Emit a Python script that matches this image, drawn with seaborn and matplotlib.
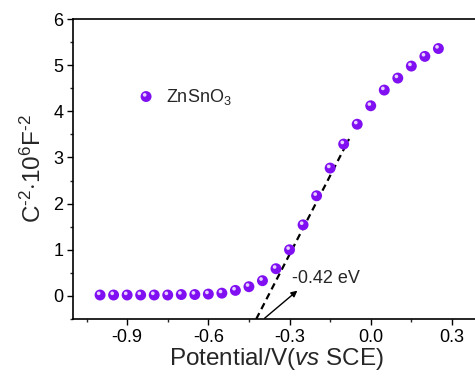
import numpy as np
import pandas as pd
import matplotlib
matplotlib.use("Agg")
import matplotlib.pyplot as plt
import matplotlib.transforms as mtransforms
import seaborn as sns

# ---- data ----
potential = [-1.00, -0.95, -0.90, -0.85, -0.80, -0.75, -0.70, -0.65, -0.60, -0.55,
             -0.50, -0.45, -0.40, -0.35, -0.30, -0.25, -0.20, -0.15, -0.10, -0.05,
             0.00, 0.05, 0.10, 0.15, 0.20, 0.25]
c_inv2 = [0.02, 0.02, 0.02, 0.02, 0.02, 0.02, 0.03, 0.03, 0.04, 0.06,
          0.12, 0.20, 0.33, 0.59, 1.00, 1.54, 2.17, 2.77, 3.29, 3.72,
          4.12, 4.46, 4.72, 4.98, 5.19, 5.36]
fit_x = [-0.423, -0.080]
fit_y = [-0.5, 3.4]
series_name = "ZnSnO$_3$"
annot_text = "-0.42 eV"
xticks = [-0.9, -0.6, -0.3, 0.0, 0.3]
yticks = [0, 1, 2, 3, 4, 5, 6]

df = pd.DataFrame({"x": potential, "y": c_inv2, "s": series_name})
fit_df = pd.DataFrame({"x": fit_x, "y": fit_y})

sns.set_style("ticks")
plt.rcParams["font.family"] = ["Liberation Sans", "DejaVu Sans"]
plt.rcParams["mathtext.fontset"] = "custom"
plt.rcParams["mathtext.rm"] = "Liberation Sans"
plt.rcParams["mathtext.it"] = "Liberation Sans:italic"
plt.rcParams["mathtext.default"] = "rm"
plt.rcParams["axes.unicode_minus"] = False

fig = plt.figure(figsize=(4.75, 3.78), dpi=100)
ax = fig.add_axes([73/475, 1-319/378, (479-73)/475, (319-19)/378])

purple = "#8010F2"
sns.lineplot(data=fit_df, x="x", y="y", ax=ax, color="black", lw=1.6,
             linestyle=(0, (3, 2)), zorder=2)
sns.scatterplot(data=df, x="x", y="y", ax=ax, color=purple, s=62,
                edgecolor="none", zorder=3, legend=False)
# sphere-like highlight
off = mtransforms.offset_copy(ax.transData, fig=fig, x=-1.0, y=1.2, units="points")
ax.scatter(df["x"], df["y"], s=7, color="#E8D0FF", edgecolor="none",
           transform=off, zorder=4)

# legend
ax.scatter([-0.83], [4.32], s=62, color=purple, edgecolor="none", zorder=3)
off2 = mtransforms.offset_copy(ax.transData, fig=fig, x=-1.0, y=1.2, units="points")
ax.scatter([-0.83], [4.32], s=7, color="#E8D0FF", edgecolor="none",
           transform=off2, zorder=4)
ax.text(-0.758, 4.32, series_name, fontsize=13, va="center", ha="left")

# annotation
ax.annotate("", xy=(-0.271, 0.115), xytext=(-0.392, -0.483),
            arrowprops=dict(arrowstyle="-|>", color="black", lw=1.0,
                            mutation_scale=9, shrinkA=0, shrinkB=0))
ax.text(-0.292, 0.38, annot_text, fontsize=13, va="center", ha="left")

ax.set_xlim(-1.1, 0.4)
ax.set_ylim(-0.5, 6)
ax.set_xticks(xticks)
ax.set_xticklabels([f"{t:.1f}" for t in xticks])
ax.set_yticks(yticks)
ax.set_xticks(np.arange(-1.05, 0.4, 0.3), minor=True)
ax.set_yticks(np.arange(-0.5, 6.0, 1.0), minor=True)
ax.tick_params(axis="both", which="major", length=4.5, width=1.0, direction="out",
               labelsize=13, colors="black", pad=2.5)
ax.tick_params(axis="both", which="minor", length=2.5, width=1.0, direction="out")
for sp in ax.spines.values():
    sp.set_linewidth(1.2)
    sp.set_color("black")
sns.despine(ax=ax, top=False, right=False)

ax.set_xlabel(r"Potential/V($\it{vs}$ SCE)", fontsize=17.5, labelpad=0)
ax.set_ylabel(r"C$^{\text{-}2}$$\cdot$10$^{6}$F$^{\text{-}2}$", fontsize=17.5, labelpad=5)

fig.savefig("out.png", dpi=100)
